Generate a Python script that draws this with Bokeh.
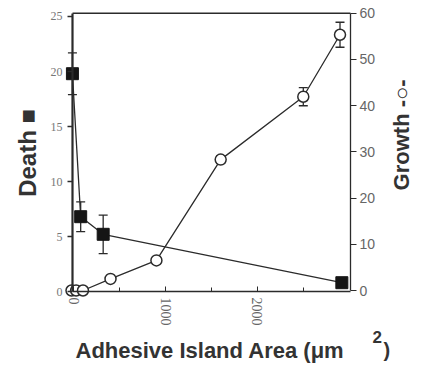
import math
from bokeh.plotting import figure
from bokeh.models import (Range1d, LinearAxis, FixedTicker, Whisker, TeeHead,
                          ColumnDataSource, Label)
from bokeh.embed import file_html
from bokeh.resources import INLINE

# ---- data ----
death_area = [-15, 75, 320, 2920]
death_pct = [19.8, 6.8, 5.2, 0.8]
death_err = [1.9, 1.35, 1.75, 0.0]

growth_area = [-25, 25, 100, 400, 900, 1600, 2500, 2900]
growth_pct = [0, 0, 0, 2.5, 6.5, 28.3, 41.9, 55.3]
growth_err = [0, 0, 0, 0, 0, 0.8, 1.95, 2.7]

x_ticks = [0, 1000, 2000]
x_minor_ticks = [500, 1500, 2500]
death_ticks = [0, 5, 10, 15, 20, 25]
growth_ticks = [0, 10, 20, 30, 40, 50, 60]

LINE = "#2b2b2b"
TITLE = "#333333"
LEFT_AXIS_AT = -14      # x where the Death axis sits
RIGHT_AXIS_AT = 3014    # x where the Growth axis sits
DEATH_TOP = 25.3        # top of the box, in Death units
GROWTH_TOP = 59.95      # same height, in Growth units

# whole canvas is the frame; axes are drawn at fixed data locations
p = figure(width=437, height=365, x_range=Range1d(-798.5, 3962),
           y_range=Range1d(-6.727, 26.4545), output_backend="svg",
           toolbar_location=None, min_border=0)
p.extra_y_ranges = {"growth": Range1d(-16.216, 62.703)}
p.grid.visible = False
p.outline_line_color = None
p.background_fill_color = "white"
p.border_fill_color = "white"

# left axis (Death)
ya = p.yaxis[0]
ya.fixed_location = LEFT_AXIS_AT
ya.bounds = (0, DEATH_TOP)
ya.ticker = FixedTicker(ticks=death_ticks)
ya.axis_line_color = LINE
ya.axis_line_width = 2.2
ya.major_tick_in = 0
ya.major_tick_out = 5
ya.major_tick_line_color = LINE
ya.major_tick_line_width = 1.3
ya.minor_tick_line_color = None
ya.major_label_text_font = "Liberation Serif"
ya.major_label_text_font_size = "12px"
ya.major_label_text_color = "#777777"
ya.major_label_standoff = 5

# right axis (Growth)
ra = LinearAxis(y_range_name="growth", ticker=FixedTicker(ticks=growth_ticks),
                fixed_location=RIGHT_AXIS_AT, bounds=(0, GROWTH_TOP))
ra.axis_line_color = LINE
ra.axis_line_width = 1.3
ra.major_tick_in = 0
ra.major_tick_out = 6
ra.major_tick_line_color = LINE
ra.minor_tick_line_color = None
ra.major_label_text_font = "Liberation Sans"
ra.major_label_text_font_size = "14px"
ra.major_label_text_color = "#666666"
ra.major_label_standoff = 3
p.add_layout(ra, "right")

# bottom axis
xa = p.xaxis[0]
xa.fixed_location = 0
xa.bounds = (LEFT_AXIS_AT, RIGHT_AXIS_AT)
xa.ticker = FixedTicker(ticks=x_ticks, minor_ticks=x_minor_ticks)
xa.axis_line_color = LINE
xa.axis_line_width = 1.5
xa.major_tick_in = 5
xa.major_tick_out = 0
xa.minor_tick_in = 4
xa.minor_tick_out = 0
xa.major_tick_line_color = LINE
xa.minor_tick_line_color = LINE
xa.major_label_orientation = "vertical"
xa.major_label_text_font = "Liberation Serif"
xa.major_label_text_font_size = "14px"
xa.major_label_text_color = "#666666"
xa.major_label_standoff = 6

# top edge of the box
p.segment(x0=[LEFT_AXIS_AT], y0=[DEATH_TOP], x1=[RIGHT_AXIS_AT],
          y1=[DEATH_TOP], line_color=LINE, line_width=1.5)

# titles
title_kw = dict(text_font="Liberation Sans", text_font_style="bold",
                text_color=TITLE, text_baseline="alphabetic")
p.add_layout(Label(x=-504, y=12.6, text="Death \u25a0", angle=math.pi / 2,
                   text_align="center", text_font_size="24px", **title_kw))
p.add_layout(Label(x=3570, y=33.65, y_range_name="growth",
                   text="Growth -\u25cb-", angle=math.pi / 2,
                   text_align="center", text_font_size="22px", **title_kw))
p.add_layout(Label(x=18.5, y=-5.36, text="Adhesive Island Area (\u03bcm",
                   text_align="left", text_font_size="22px", **title_kw))
p.add_layout(Label(x=3254, y=-4.18, text="2", text_align="left",
                   text_font_size="17px", **title_kw))
p.add_layout(Label(x=3373, y=-5.36, text=")", text_align="left",
                   text_font_size="20px", **title_kw))

# error bars
dsrc = ColumnDataSource(dict(
    x=[a for a, e in zip(death_area, death_err) if e > 0],
    upper=[v + e for v, e in zip(death_pct, death_err) if e > 0],
    lower=[v - e for v, e in zip(death_pct, death_err) if e > 0]))
gsrc = ColumnDataSource(dict(
    x=[a for a, e in zip(growth_area, growth_err) if e > 0],
    upper=[v + e for v, e in zip(growth_pct, growth_err) if e > 0],
    lower=[v - e for v, e in zip(growth_pct, growth_err) if e > 0]))
for src, rn in ((dsrc, "default"), (gsrc, "growth")):
    w = Whisker(source=src, base="x", upper="upper", lower="lower",
                line_color=LINE, line_width=1.3, y_range_name=rn,
                upper_head=TeeHead(size=9, line_color=LINE, line_width=1.3),
                lower_head=TeeHead(size=9, line_color=LINE, line_width=1.3))
    p.add_layout(w)

# series
p.line(death_area, death_pct, line_color=LINE, line_width=1.3)
p.scatter(death_area, death_pct, marker="square", size=12,
          fill_color="#151515", line_color="#151515")
p.line(growth_area, growth_pct, line_color=LINE, line_width=1.3,
       y_range_name="growth")
p.scatter(growth_area, growth_pct, marker="circle", size=11,
          fill_color="white", line_color=LINE, line_width=1.5,
          y_range_name="growth")

open("out.html", "w").write(file_html(p, INLINE))
